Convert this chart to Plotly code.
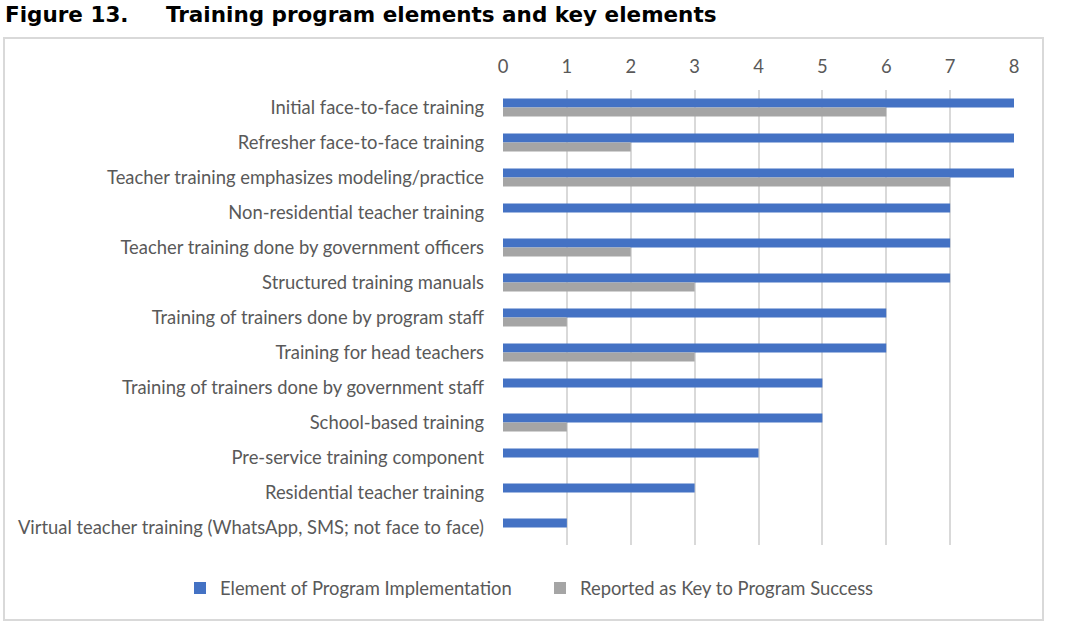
import plotly.graph_objects as go

categories = [
    "Initial face-to-face training",
    "Refresher face-to-face training",
    "Teacher training emphasizes modeling/practice",
    "Non-residential teacher training",
    "Teacher training done by government officers",
    "Structured training manuals",
    "Training of trainers done by program staff",
    "Training for head teachers",
    "Training of trainers done by government staff",
    "School-based training",
    "Pre-service training component",
    "Residential teacher training",
    "Virtual teacher training (WhatsApp, SMS; not face to face)",
]
element_impl = [8, 8, 8, 7, 7, 7, 6, 6, 5, 5, 4, 3, 1]
key_success = [6, 2, 7, 0, 2, 3, 1, 3, 0, 1, 0, 0, 0]
x_ticks = [0, 1, 2, 3, 4, 5, 6, 7, 8]

W, H = 1077, 633
L, R, T, B = 503, 1014, 90, 545

fig = go.Figure()
fig.add_trace(go.Bar(y=categories, x=element_impl, orientation="h",
                     name="Element of Program Implementation",
                     marker=dict(color="#4472C4", line=dict(width=0))))
fig.add_trace(go.Bar(y=categories, x=key_success, orientation="h",
                     name="Reported as Key to Program Success",
                     marker=dict(color="#A5A5A5", line=dict(width=0))))

pw = R - L
ph = B - T
def px_x(p):
    return (p - L) / pw
def px_y(p):
    return (B - p) / ph

FS = 18.4

fig.update_layout(
    width=W, height=H,
    margin=dict(l=L, r=W - R, t=T, b=H - B, autoexpand=False),
    paper_bgcolor="white", plot_bgcolor="white",
    barmode="group", bargap=0.49, bargroupgap=0,
    font=dict(family="Lato, Open Sans, sans-serif", color="#595959", size=FS),
    title=dict(text="<b>Figure 13.&nbsp;&nbsp;&nbsp;&nbsp;&nbsp;Training program elements and key elements</b>",
               font=dict(family="DejaVu Sans", size=21.5, color="black"),
               xref="container", x=5 / W, xanchor="left",
               yref="container", y=1 - 14 / H, yanchor="middle"),
    xaxis=dict(side="top", range=[0, 8], tickvals=x_ticks,
               showgrid=True, gridcolor="#D9D9D9", gridwidth=2,
               zeroline=False, showline=False, ticks="",
               ticklabelstandoff=12,
               tickfont=dict(size=FS, color="#595959")),
    yaxis=dict(autorange="reversed", showgrid=False, zeroline=False,
               showline=False, ticks="", ticklabelstandoff=18,
               tickfont=dict(size=FS, color="#595959")),
    legend=dict(orientation="h", x=px_x(180), xanchor="left",
                y=px_y(588), yanchor="middle",
                font=dict(size=FS, color="#595959"),
                itemwidth=30, entrywidth=315, entrywidthmode="pixels",
                traceorder="normal"),
    shapes=[dict(type="rect", xref="paper", yref="paper",
                 x0=px_x(4), x1=px_x(1043), y0=px_y(38), y1=px_y(620),
                 line=dict(color="#D9D9D9", width=2), layer="below")],
)

fig.write_html("out.html")
